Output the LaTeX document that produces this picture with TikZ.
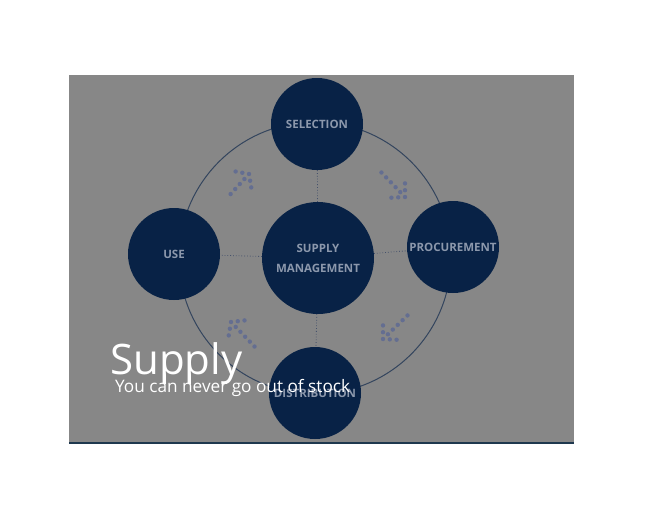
\documentclass[tikz,border=0pt]{standalone}
\usepackage{fontspec}
\setmainfont{Open Sans}
\usetikzlibrary{positioning}
\definecolor{panelgray}{RGB}{135,135,135}
\definecolor{navy}{RGB}{8,34,70}
\definecolor{labelgray}{RGB}{140,152,172}
\definecolor{ringblue}{RGB}{52,69,94}
\definecolor{dotblue}{RGB}{100,110,145}
\definecolor{linkblue}{RGB}{70,82,108}
\definecolor{edgeblue}{RGB}{30,56,78}

\begin{document}
\begin{tikzpicture}[x=1pt,y=-1pt,
  stage/.style={circle,fill=navy,minimum size=92pt,inner sep=0pt,align=center,
    text=labelgray,font=\bfseries\fontsize{11.5}{20}\selectfont},
  hub/.style={stage,minimum size=112pt},
  link/.style={linkblue,line width=0.8pt,dotted},
  dotarrow/.style={dotblue,line width=4.4pt,line cap=round,dash pattern=on 0pt off 6.8pt}]
  \useasboundingbox (0,0) rectangle (653,512);
  \fill[panelgray] (69,75) rectangle (574,443);
  \draw[edgeblue,line width=1.5pt] (69,443) -- (574,443);
  % outer ring
  \draw[ringblue,line width=1pt] (315,258) circle[radius=136];
  % the five stages
  \node[hub] (mgmt) at (318,258) {SUPPLY\\MANAGEMENT};
  \node[stage] (sel) at (317,124) {SELECTION};
  \node[stage] (proc) at (453,247) {PROCUREMENT};
  \node[stage] (dist) at (315,393) {DISTRIBUTION};
  \node[stage] (use) at (174,254) {USE};
  \draw[link] (mgmt) -- (sel);
  \draw[link] (mgmt) -- (proc);
  \draw[link] (mgmt) -- (dist);
  \draw[link] (mgmt) -- (use);
  % dotted arrows, clockwise
  \draw[dotarrow] (249,174) -- (227,198) (249,174) -- (233,171) (249,174) -- (252,192);
  \draw[dotarrow] (405,197) -- (380,171) (405,197) -- (385,198) (405,197) -- (405,180);
  \draw[dotarrow] (383,339) -- (409,314) (383,339) -- (383,320) (383,339) -- (402,340);
  \draw[dotarrow] (231,322) -- (255,347) (231,322) -- (248,320) (231,322) -- (228,340);
  % caption
  \node[white,anchor=base west,inner sep=0pt,font=\fontsize{42}{44}\selectfont] (title) at (110,374) {Supply};
  \node[white,anchor=base west,inner sep=0pt,font=\fontsize{17.2}{19}\selectfont] (sub) at (115,392) {You can never go out of stock};
\end{tikzpicture}
\end{document}
